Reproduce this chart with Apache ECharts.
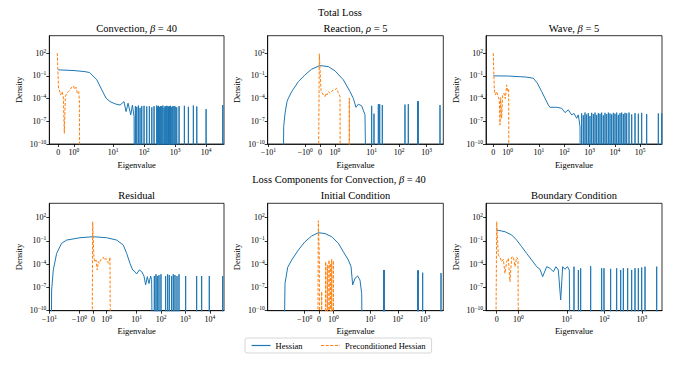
<!DOCTYPE html>
<html><head><meta charset="utf-8">
<script src="https://cdn.jsdelivr.net/npm/echarts@6/dist/echarts.min.js"></script>
<style>html,body{margin:0;padding:0;background:#fff}#c{width:684px;height:365px}</style>
</head><body><div id="c"></div>
<script>
// ---------- data (eigenvalue, density) ----------
// Convection, beta = 40
const convHessX = [0, 1, 1.7, 2.0, 2.97, 4.3, 5.9, 7.9, 11.5, 16.7, 22.3, 26.0, 30.2, 36.9, 41.7, 47.1, 50.8];
const convHessY = [0.62, 0.5, 0.36, 0.27, 0.03, 1.4e-3, 1.1e-4, 4e-5, 2e-5, 1.4e-5, 4e-5, 1.9e-6, 2.4e-5, 7e-7, 1.4e-5, 4e-7, 0];
const convSpikeX = [52, 57.6, 64.9, 73.5, 83.4, 99, 121, 147, 176, 208, 254, 270, 290, 309, 340, 369, 400, 438, 470, 500, 535, 580, 610, 649, 700, 775, 840, 919, 1000, 1123, 1334, 1979, 2663, 3860, 4970, 9918, 34200];
const convSpikeY = [1e-5, 8e-6, 1.2e-5, 6e-6, 1e-5, 1.1e-5, 9e-6, 1e-5, 7e-6, 1e-5, 1.2e-5, 9e-6, 1.1e-5, 8e-6, 1e-5, 1e-5, 1.2e-5, 6e-6, 1e-5, 9e-6, 1.1e-5, 1e-5, 8e-6, 1e-5, 1.1e-5, 8e-6, 1e-5, 1e-5, 9e-6, 7e-6, 1e-5, 1.1e-5, 8e-6, 1.2e-5, 9e-6, 4e-6, 1.4e-5];
const convPrecX = [-0.064, 0.013, 0.066, 0.151, 0.236, 0.321, 0.385, 0.449, 0.534, 0.641, 0.747, 0.854, 0.96, 1.045, 1.13, 1.215, 1.30, 1.343, 1.407];
const convPrecY = [100, 2.5e-3, 1.4e-3, 3e-4, 8.3e-4, 1.8e-4, 2.6e-9, 1.8e-4, 5e-4, 8.3e-4, 1.4e-3, 3.2e-3, 4.7e-3, 1.7e-3, 3.2e-3, 5e-4, 8.3e-4, 6.6e-5, 0];

// Reaction, rho = 5
const reacHessX = [-3.09, -2.75, -2.46, -2.20, -2.11, -1.89, -1.446, -1.0, -0.556, 0, 0.556, 1.0, 1.557, 2.0, 2.22, 2.68, 3.26, 4.3, 5.69, 7.1];
const reacHessY = [0, 2e-8, 1.1e-6, 4e-5, 1.1e-4, 8.3e-4, 0.017, 0.135, 0.76, 2.3, 1.66, 0.46, 0.03, 8.3e-4, 1.1e-4, 7e-6, 1.8e-5, 1.1e-5, 7e-7, 0];
const reacSpikeX = [9.95, 12.1, 17.4, 19.5, 24.3, 162, 214, 469, 495, 3042];
const reacSpikeY = [1.1e-5, 1e-6, 1.8e-5, 1.8e-5, 1.4e-5, 1.6e-5, 1.8e-5, 4.5e-5, 4.5e-5, 1.4e-5];
const reacPrecX = [-0.156, -0.045, 0.067, 0.111, 0.222, 0.334, 0.4, 0.467, 0.556, 0.667, 0.779, 0.89, 1.0, 1.112, 1.223, 1.29, 1.335, 1.38];
const reacPrecY = [0, 80, 1.1e-3, 1.1e-3, 3e-4, 1.8e-4, 5e-4, 3e-4, 8.3e-4, 5e-4, 8.3e-4, 1.4e-3, 1.4e-3, 2.3e-3, 6e-4, 3e-4, 1.8e-4, 0];
const reacPrecSpikeX = [1.957];
const reacPrecSpikeY = [1.2e-4];

// Wave, beta = 5
const waveHessX = [0, 1.0, 3.0, 5.96, 8.57, 12.8, 17.3, 23.4, 27.2, 50.1, 79, 107, 144, 196, 242, 309, 358, 418, 470];
const waveHessY = [0.1, 0.095, 0.07, 0.049, 0.011, 8.3e-4, 1.1e-4, 1.4e-5, 7e-6, 7e-6, 5.2e-6, 1.4e-6, 3.2e-6, 7e-7, 1.1e-6, 2.5e-7, 7e-7, 2e-8, 0];
const waveSpikeX = [486, 566, 659, 766, 891, 1038, 1208, 1406, 1637, 1905, 2214, 2577, 3000, 3491, 4064, 4732, 5508, 6412, 7464, 8670, 10093, 11749, 13677, 15922, 18535, 21577, 25119, 29241, 36141, 46132, 62373, 84528, 114287, 180302, 521195, 706320];
const waveSpikeY = [1.1e-6, 6e-7, 1.4e-6, 8e-7, 1.2e-6, 5e-7, 1.3e-6, 9e-7, 1.4e-6, 7e-7, 1.2e-6, 1e-6, 1.4e-6, 6e-7, 1.3e-6, 9e-7, 1.4e-6, 1.1e-6, 8e-7, 1.3e-6, 1e-6, 1.4e-6, 7e-7, 1.2e-6, 1.4e-6, 9e-7, 1.3e-6, 1.1e-6, 1.4e-6, 8e-7, 1.2e-6, 1e-6, 1.3e-6, 9e-7, 1.1e-6, 1.1e-6];
const wavePrecX = [0, 0.072, 0.141, 0.234, 0.326, 0.419, 0.465, 0.512, 0.581, 0.65, 0.743, 0.836, 0.928, 0.998, 1.067, 1.114];
const wavePrecY = [100, 1.4e-3, 3e-4, 8e-4, 2e-4, 6.6e-5, 3.2e-8, 1.3e-4, 2.5e-7, 2.5e-4, 5e-4, 1e-4, 6.3e-3, 1e-3, 1.6e-3, 0];

// Residual
const resHessX = [-9.40, -8.03, -6.87, -5.01, -3.13, -1.95, -0.951, 0, 1.0, 1.732, 2.84, 3.90, 5.34, 6.87, 8.55, 10.0, 12.9, 16.1, 20.0, 23.4, 27.4, 32.1, 37.5, 41.2, 48.3];
const resHessY = [0, 4.7e-8, 1.8e-5, 2.5e-3, 0.05, 0.13, 0.26, 0.35, 0.26, 0.13, 0.03, 2.5e-3, 1.3e-4, 1.8e-5, 1.1e-5, 5.5e-6, 1.8e-5, 1.1e-5, 3e-6, 2.1e-7, 2.5e-6, 3.2e-7, 3e-6, 1e-6, 0];
const resSpikeX = [53.1, 62.1, 70.5, 82.4, 99.5, 154.5, 186.6, 218, 272, 318, 373, 451, 545, 1021, 2884, 4624, 9528, 33497];
const resSpikeY = [3e-6, 5e-6, 3e-6, 4e-6, 5e-6, 3e-6, 5e-6, 4e-6, 3e-6, 5e-6, 4e-6, 3e-6, 5e-6, 3e-6, 3e-6, 3e-6, 3e-6, 3e-6];
const resPrecX = [-0.0975, -0.024, 0.073, 0.146, 0.219, 0.317, 0.39, 0.463, 0.561, 0.658, 0.756, 0.853, 0.951, 1.048, 1.146, 1.244, 1.317];
const resPrecY = [0, 30, 5.7e-4, 2.1e-4, 3.5e-4, 1.8e-5, 2.1e-4, 1.3e-4, 3.5e-4, 5.7e-4, 7.8e-4, 3.5e-4, 5.7e-4, 2.1e-4, 1.3e-4, 7.8e-4, 0];

// Initial Condition
const icHessX = [-2.82, -2.378, -2.19, -1.91, -1.445, -0.98, -0.513, -0.047, 0.42, 0.886, 1.352, 1.70, 2.05, 2.24, 2.355, 2.66, 3.33, 4.06, 4.69, 5.40];
const icHessY = [0, 3.4e-7, 4e-5, 3.5e-4, 6.8e-3, 0.08, 0.44, 1.15, 0.9, 0.35, 0.05, 4e-3, 3.5e-4, 4.8e-5, 2.1e-7, 1.5e-6, 3e-6, 9e-7, 1.7e-8, 0];
const icSpikeX = [30.3, 32.0, 541, 573, 826, 3917];
const icSpikeY = [1.8e-5, 1.8e-5, 1.6e-5, 1.6e-5, 8e-6, 7e-6];
const icPrecX = [-0.117, -0.047, 0.023, 0.06];
const icPrecY = [0, 40, 6e-4, 0];
const icPrecSpikeX = [0.187, 0.466, 0.583, 0.70, 0.793, 0.886, 1.002];
const icPrecSpikeY = [2.8e-8, 2.1e-4, 8e-5, 3.5e-4, 1.3e-4, 4.5e-4, 2.8e-4];

// Boundary Condition
const bcHessX = [0, 0.386, 0.693, 0.926, 1.157, 1.388, 1.62, 1.852, 2.006, 2.28, 2.92, 3.57, 4.39, 5.16, 5.96, 6.89, 7.78, 8.97, 10.4, 11.7, 13.0];
const bcHessY = [2.6, 1.55, 0.59, 0.13, 0.018, 2.5e-3, 3.5e-4, 4.8e-5, 2.2e-5, 2.5e-6, 4.8e-5, 3e-5, 1.1e-5, 4.8e-5, 1.8e-5, 2.4e-9, 4.8e-5, 2.2e-5, 4.8e-5, 1.8e-5, 0];
const bcSpikeX = [15.6, 20.4, 23.5, 43.4, 85.3, 98.4, 148, 214, 274, 323, 421, 538, 661, 811, 995, 1222, 2500];
const bcSpikeY = [4.8e-5, 1.8e-5, 3e-5, 5.5e-5, 3e-5, 3e-5, 2.5e-5, 3e-5, 1.8e-5, 3e-5, 3e-5, 1.8e-5, 3e-5, 3e-5, 3.7e-5, 4.8e-5, 4.8e-5];
const bcPrecX = [-0.079, 0, 0.076, 0.153, 0.23, 0.307, 0.384, 0.461, 0.539, 0.616, 0.693, 0.770, 0.848, 0.925, 0.987, 1.033];
const bcPrecY = [0, 30, 1.5e-3, 7.8e-4, 2.1e-4, 4.3e-4, 6.6e-6, 2.1e-4, 5.7e-4, 5.5e-7, 7.8e-4, 9.3e-4, 4.8e-5, 7.8e-4, 4.3e-4, 0];

// tick values
const yTicks = [1e-10, 1e-7, 1e-4, 1e-1, 1e2];
const convTicks = [0, 1, 10, 100, 1000, 10000];
const reacTicks = [-10, -1, 0, 1, 10, 100, 1000];
const waveTicks = [0, 1, 10, 100, 1000, 10000, 100000];
const resTicks = [-10, -1, 0, 1, 10, 100, 1000, 10000];
const icTicks = [-10, -1, 0, 1, 10, 100, 1000];
const bcTicks = [0, 1, 10, 100, 1000];

const titles = ['Convection, |β| = 40', 'Reaction, |ρ| = 5', 'Wave, |β| = 5', 'Residual', 'Initial Condition', 'Boundary Condition'];
const supTitles = ['Total Loss', 'Loss Components for Convection, |β| = 40'];
const seriesNames = ['Hessian', 'Preconditioned Hessian'];

// ---------- build ----------
const F = 'Liberation Serif';
const BLUE = '#1f77b4', ORANGE = '#ff7f0e';
const ZERO_DENSITY = 1e-30; // zero density drawn below the log axis (clipped), like matplotlib
function symlog(x, L, c) {
  const ax = Math.abs(x);
  return ax <= L ? x * c / L : Math.sign(x) * (c + Math.log10(ax / L));
}
const panels = [
  {L: 2.2, c: 1.113, min: -0.29, max: 5.345, ticks: convTicks, hx: convHessX, hy: convHessY, sx: convSpikeX, sy: convSpikeY, px: convPrecX, py: convPrecY, psx: [], psy: []},
  {L: 2.27, c: 1.237, min: -1.902, max: 4.484, ticks: reacTicks, hx: reacHessX, hy: reacHessY, sx: reacSpikeX, sy: reacSpikeY, px: reacPrecX, py: reacPrecY, psx: reacPrecSpikeX, psy: reacPrecSpikeY},
  {L: 1.91, c: 1.087, min: -0.288, max: 6.668, ticks: waveTicks, hx: waveHessX, hy: waveHessY, sx: waveSpikeX, sy: waveSpikeY, px: wavePrecX, py: wavePrecY, psx: [], psy: []},
  {L: 1.91, c: 1.07, min: -1.79, max: 5.37, ticks: resTicks, hx: resHessX, hy: resHessY, sx: resSpikeX, sy: resSpikeY, px: resPrecX, py: resPrecY, psx: [], psy: []},
  {L: 2.45, c: 1.29, min: -1.89, max: 4.578, ticks: icTicks, hx: icHessX, hy: icHessY, sx: icSpikeX, sy: icSpikeY, px: icPrecX, py: icPrecY, psx: icPrecSpikeX, psy: icPrecSpikeY},
  {L: 2.05, c: 1.18, min: -0.285, max: 4.408, ticks: bcTicks, hx: bcHessX, hy: bcHessY, sx: bcSpikeX, sy: bcSpikeY, px: bcPrecX, py: bcPrecY, psx: [], psy: []}
];
const gridLeft = [49.3, 267.7, 486], gridW = [174.7, 175.6, 176];
const gridTop = [35.7, 203.3], gridH = [108.3, 107.4];
const yMax = [2e4, 7.2e3];

function dens(v) { return v > 0 ? v : ZERO_DENSITY; }
function curve(xs, ys, p) { return xs.map((x, i) => [symlog(x, p.L, p.c), dens(ys[i])]); }
function spikes(xs, ys, p) {
  const out = [];
  xs.forEach((x, i) => { const u = symlog(x, p.L, p.c); out.push([u, ZERO_DENSITY], [u, ys[i]], [u, ZERO_DENSITY]); });
  return out;
}
const rich = {
  b: {fontFamily: F, fontSize: 8, color: '#000', lineHeight: 11},
  s: {fontFamily: F, fontSize: 5.5, color: '#000', verticalAlign: 'top', lineHeight: 6}
};
function expText(e) { return e < 0 ? '\u2212' + (-e) : String(e); }
function xLabel(val) {
  if (val === 0) return '{b|0}';
  const e = Math.round(Math.log10(Math.abs(val)));
  return (val < 0 ? '{b|\u221210}' : '{b|10}') + '{s|' + expText(e) + '}';
}
function titleRich(t) {
  return t.split('|').map((s, i) => (i % 2 ? '{i|' + s + '}' : '{n|' + s + '}')).join('');
}
const TFS = 10.5;
const titleRichStyle = {n: {fontFamily: F, fontSize: TFS, fill: '#000'}, i: {fontFamily: F, fontSize: TFS, fontStyle: 'italic', fill: '#000'}};

const grids = [], xAxes = [], yAxes = [], series = [], graphics = [];
panels.forEach((p, i) => {
  const row = Math.floor(i / 3), col = i % 3;
  grids.push({left: gridLeft[col], top: gridTop[row], width: gridW[col], height: gridH[row], show: true, borderColor: '#000', borderWidth: 0.8, containLabel: false});
  const tv = p.ticks.map(t => symlog(t, p.L, p.c));
  xAxes.push({
    type: 'value', gridIndex: i, min: p.min, max: p.max,
    name: 'Eigenvalue', nameLocation: 'middle', nameGap: 16,
    nameTextStyle: {fontFamily: F, fontSize: 8.5, color: '#000'},
    axisLine: {show: true, onZero: false, lineStyle: {color: '#000', width: 0.8}},
    axisTick: {show: true, customValues: tv, length: 3, lineStyle: {color: '#000', width: 0.8}},
    axisLabel: {customValues: tv, margin: 3, rich: rich,
      formatter: v => { let k = 0; tv.forEach((t, j) => { if (Math.abs(t - v) < Math.abs(tv[k] - v)) k = j; }); return xLabel(p.ticks[k]); }},
    splitLine: {show: false}
  });
  yAxes.push({
    type: 'log', logBase: 10, gridIndex: i, min: 1e-10, max: yMax[row],
    name: 'Density', nameLocation: 'middle', nameGap: 26,
    nameTextStyle: {fontFamily: F, fontSize: 8.5, color: '#000'},
    axisLine: {show: true, onZero: false, lineStyle: {color: '#000', width: 0.8}},
    axisTick: {show: true, customValues: yTicks, length: 3, lineStyle: {color: '#000', width: 0.8}},
    axisLabel: {customValues: yTicks, margin: 3, rich: rich,
      formatter: v => '{b|10}{s|' + expText(Math.round(Math.log10(v))) + '}'},
    minorTick: {show: false}, splitLine: {show: false}
  });
  series.push({
    name: seriesNames[0], type: 'line', xAxisIndex: i, yAxisIndex: i, symbol: 'none', clip: true,
    lineStyle: {color: BLUE, width: 1}, itemStyle: {color: BLUE},
    data: curve(p.hx, p.hy, p).concat(spikes(p.sx, p.sy, p))
  });
  series.push({
    name: seriesNames[1], type: 'line', xAxisIndex: i, yAxisIndex: i, symbol: 'none', clip: true,
    lineStyle: {color: ORANGE, width: 1, type: [3, 1.6]}, itemStyle: {color: ORANGE},
    data: curve(p.px, p.py, p).concat(spikes(p.psx, p.psy, p))
  });
  graphics.push({type: 'text', x: gridLeft[col] + gridW[col] / 2, y: gridTop[row] - 7.5, silent: true,
    style: {text: titleRich(titles[i]), rich: titleRichStyle, align: 'center', verticalAlign: 'middle', fontFamily: F, fontSize: TFS, fill: '#000'}});
});
graphics.push({type: 'text', x: 340, y: 12.7, silent: true,
  style: {text: titleRich(supTitles[0]), rich: titleRichStyle, align: 'center', verticalAlign: 'middle', fontFamily: F, fontSize: TFS, fill: '#000'}});
graphics.push({type: 'text', x: 339, y: 179.5, silent: true,
  style: {text: titleRich(supTitles[1]), rich: titleRichStyle, align: 'center', verticalAlign: 'middle', fontFamily: F, fontSize: TFS, fill: '#000'}});

const chart = echarts.init(document.getElementById('c'), null, {renderer: 'svg'});
chart.setOption({
  animation: false,
  backgroundColor: '#fff',
  grid: grids, xAxis: xAxes, yAxis: yAxes, series: series, graphic: graphics,
  legend: {
    data: seriesNames, left: 245, top: 338, orient: 'horizontal',
    itemWidth: 19, itemHeight: 8, itemGap: 18, padding: [3, 6, 3, 6],
    itemStyle: {opacity: 0},
    lineStyle: {width: 1.2},
    borderColor: '#ccc', borderWidth: 0.8, borderRadius: 2,
    textStyle: {fontFamily: F, fontSize: 8.5, color: '#000'}
  }
});
</script></body></html>
